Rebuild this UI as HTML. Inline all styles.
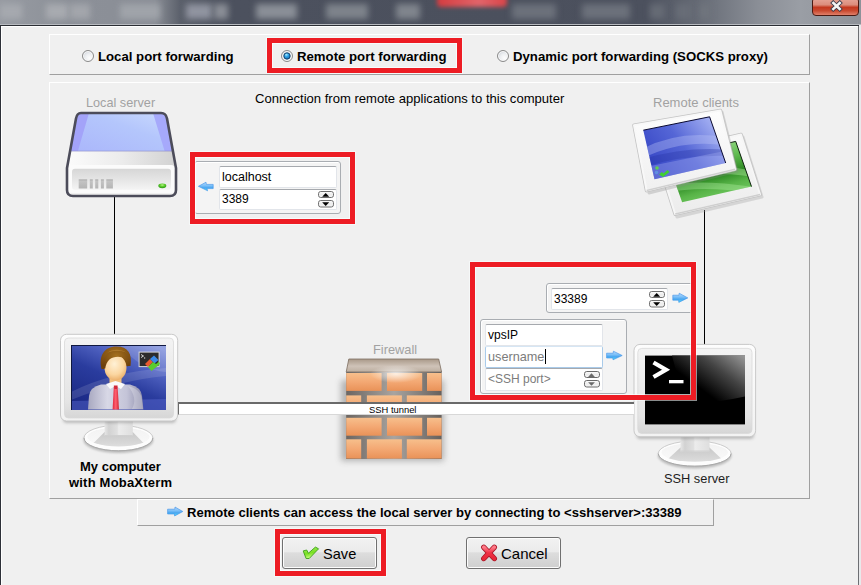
<!DOCTYPE html>
<html><head><meta charset="utf-8">
<style>
*{margin:0;padding:0;box-sizing:border-box}
html,body{width:861px;height:585px;overflow:hidden;background:#f0f0f0;font-family:"Liberation Sans",sans-serif;position:relative}
.a{position:absolute}
.t{position:absolute;white-space:pre;line-height:1;font-family:"Liberation Sans",sans-serif}
.b{font-weight:bold}
.panel{position:absolute;border-top:1px solid #fff;border-left:1px solid #fff;border-right:1px solid #a0a0a0;border-bottom:1px solid #a0a0a0}
.red{position:absolute;border:5px solid #ed1c24;box-shadow:0 0 0 1px rgba(250,255,255,0.55),inset 0 0 0 1px rgba(250,255,255,0.7)}
.radio{position:absolute;width:12px;height:12px;border-radius:50%;border:1px solid #8a8a8a;background:radial-gradient(circle at 65% 70%,#fdfdfd 0,#eceef1 45%,#cdd2d9 85%);box-shadow:inset 0 0 0 1px #fafafa}
.grp{position:absolute;border:1px solid #a9adb2;border-radius:3px;box-shadow:inset 1px 1px 0 #fff;background:#f4f4f4}
.inp{position:absolute;background:#fff;border:1px solid #e2e5ea;border-top-color:#a6a9ae;border-radius:2px}
.spin{position:absolute;width:16px;height:7px;border:1px solid #707070;border-radius:2px;background:linear-gradient(#fafafa,#e0e0e0)}
.btn{position:absolute;border:1px solid #707070;border-radius:3px;background:linear-gradient(#f2f2f2 0,#ebebeb 45%,#dddddd 50%,#cfcfcf 100%);box-shadow:inset 0 0 0 1px #fcfcfc}
.gray{color:#a2a2a2}
</style></head><body>
<!-- title bar -->
<div class="a" style="left:0;top:0;width:861px;height:25px;overflow:hidden;background:linear-gradient(90deg,#979ba2 0,#8c9098 8%,#8a8e96 18%,#5a5f6a 21%,#4c515e 27%,#4b505d 60%,#4c515e 75%,#6a6f79 82%,#8a8e96 88%,#9a9ea5 93%,#8e9299 100%)">
<div class="a" style="left:0px;top:4px;width:22px;height:15px;background:#a6a9af;filter:blur(3px)"></div>
<div class="a" style="left:46px;top:4px;width:22px;height:15px;background:#a8abb0;filter:blur(3px)"></div>
<div class="a" style="left:70px;top:4px;width:20px;height:15px;background:#a3a6ac;filter:blur(3px)"></div>
<div class="a" style="left:120px;top:4px;width:40px;height:15px;background:#a0a4aa;filter:blur(3px)"></div>
<div class="a" style="left:186px;top:4px;width:26px;height:15px;background:#9094a0;filter:blur(3px)"></div>
<div class="a" style="left:214px;top:4px;width:14px;height:15px;background:#8a8e96;filter:blur(3px)"></div>
<div class="a" style="left:256px;top:4px;width:41px;height:15px;background:#8a8f97;filter:blur(3px)"></div>
<div class="a" style="left:326px;top:4px;width:42px;height:15px;background:#7e838b;filter:blur(3px)"></div>
<div class="a" style="left:396px;top:4px;width:24px;height:15px;background:#80858d;filter:blur(3px)"></div>
<div class="a" style="left:512px;top:4px;width:44px;height:15px;background:#6c717b;filter:blur(3px)"></div>
<div class="a" style="left:582px;top:4px;width:48px;height:15px;background:#6c717b;filter:blur(3px)"></div>
<div class="a" style="left:650px;top:4px;width:15px;height:15px;background:#666b75;filter:blur(3px)"></div>
<div class="a" style="left:676px;top:4px;width:16px;height:15px;background:#686d77;filter:blur(3px)"></div>
<div class="a" style="left:700px;top:4px;width:10px;height:15px;background:#70757e;filter:blur(3px)"></div>
<div class="a" style="left:437px;top:-6px;width:70px;height:13px;border-radius:4px;background:linear-gradient(90deg,#d43c40,#e2646a 60%,#d84448);filter:blur(2px)"></div>
</div>
<div class="a" style="left:0;top:24px;width:861px;height:1px;background:#b8bbc0"></div>
<div class="a" style="left:0;top:25px;width:859px;height:1px;background:#2a2d33"></div>
<!-- close button -->
<div class="a" style="left:812px;top:-3px;width:47px;height:19px;border:1px solid #4a1a12;border-radius:4px;background:linear-gradient(#e7a79a 0,#dc8d7c 40%,#c4381f 55%,#c94a30 75%,#e0806a 100%)"></div>
<!-- frame -->
<div class="a" style="left:0;top:26px;width:1px;height:559px;background:#2d3038"></div>
<div class="a" style="left:1px;top:26px;width:1px;height:559px;background:#fff"></div>
<div class="a" style="left:1px;top:26px;width:857px;height:1px;background:#fff"></div>
<div class="a" style="left:858px;top:26px;width:1px;height:559px;background:#6d6f73"></div>
<div class="a" style="left:859px;top:25px;width:2px;height:560px;background:#e8e9eb"></div>

<!-- panel 1 -->
<div class="panel" style="left:49px;top:34px;width:761px;height:41px"></div>
<div class="radio" style="left:82px;top:50px"></div>
<div class="t b" style="left:98px;top:50px;font-size:13.2px">Local port forwarding</div>
<div class="radio" style="left:281px;top:50px"></div>
<div class="t b" style="left:297px;top:50px;font-size:13.2px">Remote port forwarding</div>
<div class="radio" style="left:497px;top:50px"></div>
<div class="t b" style="left:513px;top:50px;font-size:13.2px">Dynamic port forwarding (SOCKS proxy)</div>

<!-- panel 2 -->
<div class="panel" style="left:49px;top:82px;width:761px;height:417px"></div>
<div class="t" style="left:255px;top:92px;font-size:13.07px">Connection from remote applications to this computer</div>
<div class="t gray" style="left:86px;top:97px;font-size:12.7px">Local server</div>
<div class="t gray" style="left:653px;top:96px;font-size:13px">Remote clients</div>
<div class="t gray" style="left:373px;top:344px;font-size:12.8px">Firewall</div>
<div class="t b" style="left:80px;top:460px;font-size:13px">My computer</div>
<div class="t b" style="left:69px;top:476px;font-size:13px;letter-spacing:0.2px">with MobaXterm</div>
<div class="t" style="left:664px;top:473px;font-size:12.8px;color:#1e1e1e">SSH server</div>

<!-- lines -->
<div class="a" style="left:114px;top:196px;width:1px;height:140px;background:#000"></div>
<div class="a" style="left:704px;top:210px;width:1px;height:135px;background:#000"></div>

<svg class="a" style="left:0;top:0" width="861" height="585" viewBox="0 0 861 585">
<defs>
 <linearGradient id="baseTop" x1="0" y1="0" x2="0" y2="1"><stop offset="0" stop-color="#f2f2f2"/><stop offset="1" stop-color="#fafafa"/></linearGradient>
 <linearGradient id="baseCone" x1="0" y1="0" x2="0" y2="1"><stop offset="0" stop-color="#c8c8c8"/><stop offset="0.6" stop-color="#d8d8d8"/><stop offset="1" stop-color="#e6e6e6"/></linearGradient>
 <radialGradient id="fwHi"><stop offset="0" stop-color="#fff" stop-opacity="0.75"/><stop offset="1" stop-color="#fff" stop-opacity="0"/></radialGradient>
 <linearGradient id="dBlue" x1="0" y1="1" x2="1" y2="0"><stop offset="0" stop-color="#aab6fb"/><stop offset="0.6" stop-color="#b4c6fc"/><stop offset="1" stop-color="#c9d9fd"/></linearGradient>
 <linearGradient id="dSilver" x1="0" y1="0" x2="1" y2="0"><stop offset="0" stop-color="#fbfbfb"/><stop offset="0.5" stop-color="#ececec"/><stop offset="1" stop-color="#d2d2d2"/></linearGradient>
 <linearGradient id="dPanel" x1="0" y1="0" x2="0" y2="1"><stop offset="0" stop-color="#d6d6d6"/><stop offset="1" stop-color="#f4f4f4"/></linearGradient>
 <linearGradient id="dSlot" x1="0" y1="0" x2="0" y2="1"><stop offset="0" stop-color="#9a9a9a"/><stop offset="0.15" stop-color="#c4c4c4"/><stop offset="1" stop-color="#b4b4b4"/></linearGradient>
 <radialGradient id="dLed" cx="0.5" cy="0.35" r="0.6"><stop offset="0" stop-color="#b8f58a"/><stop offset="0.5" stop-color="#5ccc2c"/><stop offset="1" stop-color="#2f9a18"/></radialGradient>
 <linearGradient id="mBez" x1="0" y1="0" x2="0" y2="1"><stop offset="0" stop-color="#fdfdfd"/><stop offset="1" stop-color="#f2f2f2"/></linearGradient>
 <linearGradient id="mIn" x1="0" y1="0" x2="0" y2="1"><stop offset="0" stop-color="#f3f3f3"/><stop offset="0.8" stop-color="#e4e4e4"/><stop offset="1" stop-color="#d6d6d6"/></linearGradient>
 <linearGradient id="mNeck" x1="0" y1="0" x2="1" y2="0"><stop offset="0" stop-color="#e6e6e6"/><stop offset="0.15" stop-color="#d2d2d2"/><stop offset="0.45" stop-color="#e0e0e0"/><stop offset="0.5" stop-color="#ececec"/><stop offset="1" stop-color="#dedede"/></linearGradient>
 <radialGradient id="mBase" cx="0.5" cy="0.3" r="0.7"><stop offset="0" stop-color="#fefefe"/><stop offset="0.6" stop-color="#f0f0f0"/><stop offset="1" stop-color="#d0d0d0"/></radialGradient>
 <linearGradient id="scrBlue" x1="0.2" y1="1" x2="0.85" y2="0"><stop offset="0" stop-color="#1a2884"/><stop offset="0.45" stop-color="#2a3c9e"/><stop offset="0.75" stop-color="#5466c4"/><stop offset="1" stop-color="#8494dc"/></linearGradient>
 <radialGradient id="face" cx="0.45" cy="0.35" r="0.7"><stop offset="0" stop-color="#fff1d6"/><stop offset="0.6" stop-color="#fbd6a0"/><stop offset="1" stop-color="#e8a860"/></radialGradient>
 <radialGradient id="hair" cx="0.5" cy="0.3" r="0.7"><stop offset="0" stop-color="#a5701e"/><stop offset="1" stop-color="#6d400c"/></radialGradient>
 <linearGradient id="shirt" x1="0" y1="0" x2="1" y2="0"><stop offset="0" stop-color="#a8a8c0"/><stop offset="0.35" stop-color="#d8d8e6"/><stop offset="0.7" stop-color="#c4c4d8"/><stop offset="1" stop-color="#8a8aa8"/></linearGradient>
 <linearGradient id="tie" x1="0" y1="0" x2="1" y2="0"><stop offset="0" stop-color="#e02840"/><stop offset="0.5" stop-color="#ff6070"/><stop offset="1" stop-color="#d02030"/></linearGradient>
 <linearGradient id="gloss" x1="1" y1="0" x2="0.3" y2="0.6"><stop offset="0" stop-color="#9a9a9a"/><stop offset="0.5" stop-color="#444"/><stop offset="1" stop-color="#000"/></linearGradient>
 <linearGradient id="brick" x1="0" y1="0" x2="0" y2="1"><stop offset="0" stop-color="#f7bf8c"/><stop offset="0.5" stop-color="#f3a873"/><stop offset="1" stop-color="#e99258"/></linearGradient>
 <linearGradient id="slab" x1="0" y1="0" x2="0" y2="1"><stop offset="0" stop-color="#a89888"/><stop offset="0.55" stop-color="#cfc3b8"/><stop offset="1" stop-color="#bcaea0"/></linearGradient>
 <linearGradient id="mortar" x1="0" y1="0" x2="1" y2="0"><stop offset="0" stop-color="#6c6662"/><stop offset="0.5" stop-color="#a8a4a0"/><stop offset="1" stop-color="#66605c"/></linearGradient>
 <linearGradient id="rcBlue" x1="0" y1="0.3" x2="1" y2="0"><stop offset="0" stop-color="#3444c4"/><stop offset="0.5" stop-color="#5a6ad8"/><stop offset="1" stop-color="#a4b0f4"/></linearGradient>
 <linearGradient id="rcFrame" x1="0" y1="0" x2="0" y2="1"><stop offset="0" stop-color="#fcfcfc"/><stop offset="0.85" stop-color="#f2f2f2"/><stop offset="1" stop-color="#d8d8d8"/></linearGradient>
 <linearGradient id="rcGreen" x1="0" y1="0" x2="0.3" y2="1"><stop offset="0" stop-color="#98dc88"/><stop offset="0.4" stop-color="#58b448"/><stop offset="0.7" stop-color="#3a9a30"/><stop offset="1" stop-color="#68c458"/></linearGradient>
</defs>

<!-- ===== Local server drive ===== -->
<g>
 <path d="M81,113 L161,113 Q166,113 167,118.5 L176,168 L176,190 Q176,196 170,196 L73,196 Q67,196 67,190 L67,168 L76,118.5 Q77,113 81,113 Z" fill="#f0f0f0"/>
 <path d="M81,114 L161,114 Q165.5,114 166.3,118.5 L172.3,151 L70.6,151 L76.6,118.5 Q77.5,114 81,114 Z" fill="url(#dBlue)"/>
 <path d="M81,114 L88.7,114 L77.9,151 L70.6,151 L76.6,118.5 Q77.5,114 81,114 Z" fill="#a3a3f9"/>
 <path d="M153.3,114 L161,114 Q165.5,114 166.3,118.5 L172.3,151 L164.6,151 Z" fill="#a6a9fb"/>
 <path d="M70.6,151 L172.3,151 L175,166 L68,166 Z" fill="url(#dSilver)"/>
 <rect x="70.6" y="150.6" width="101.7" height="1" fill="#8a8cc8" opacity="0.6"/>
 <rect x="68" y="165" width="107" height="28" rx="4" fill="#fbfbfb"/>
 <rect x="72" y="168.8" width="99" height="21" rx="3" fill="url(#dPanel)"/>
 <rect x="78.7" y="179.5" width="8.5" height="9" fill="url(#dSlot)"/>
 <rect x="89.8" y="179.5" width="3" height="9" fill="url(#dSlot)"/>
 <rect x="95.2" y="179.5" width="3.1" height="9" fill="url(#dSlot)"/>
 <rect x="100.9" y="179.5" width="3" height="9" fill="url(#dSlot)"/>
 <rect x="106.3" y="179.5" width="6.6" height="9" fill="url(#dSlot)"/>
 <ellipse cx="162.3" cy="185.8" rx="4" ry="2.4" fill="url(#dLed)"/>
 <path d="M81,113 L161,113 Q166,113 167,118.5 L176,168 L176,190 Q176,196 170,196 L73,196 Q67,196 67,190 L67,168 L76,118.5 Q77,113 81,113 Z" fill="none" stroke="#4c4c5a" stroke-width="2.6"/>
</g>

<!-- ===== Left monitor (My computer) ===== -->
<g>

 <ellipse cx="118.4" cy="440.2" rx="34.9" ry="12.8" fill="#7a7a7a" opacity="0.45" style="filter:blur(1.2px)"/>
 <ellipse cx="118.4" cy="438" rx="34.4" ry="12.8" fill="#fdfdfd" stroke="#c2c2c2" stroke-width="0.8"/>
 <path d="M84.0,438 A34.4,12.8 0 0 0 152.8,438" fill="none" stroke="#a9a9a9" stroke-width="1"/>
 <clipPath id="bc1"><ellipse cx="118.4" cy="436.8" rx="31.4" ry="9.600000000000001"/></clipPath>
 <g clip-path="url(#bc1)">
  <ellipse cx="118.4" cy="436.8" rx="31.4" ry="9.600000000000001" fill="url(#baseTop)"/>
  <path d="M104.6,432 L132.8,432 L151.08,450.8 L85.72,450.8 Z" fill="url(#baseCone)"/>
 </g>
 <rect x="104.6" y="419" width="28.200000000000017" height="17" fill="url(#mNeck)"/>
 <rect x="104.6" y="419" width="28.200000000000017" height="1.2" fill="#fafafa"/>
 <rect x="104.6" y="435" width="28.200000000000017" height="1" fill="#d0d0d0"/>
 <rect x="63" y="414" width="113" height="9" rx="4" fill="#6a6a6a" opacity="0.4" style="filter:blur(1.6px)"/>
 <rect x="60.5" y="334.3" width="117.2" height="86.7" rx="6" fill="url(#mBez)" stroke="#c9c9c9" stroke-width="1"/>
 <rect x="64.5" y="338" width="109" height="80" rx="4" fill="url(#mIn)" stroke="#d9d9d9" stroke-width="0.8"/>
 <rect x="71" y="345" width="95" height="65" fill="url(#scrBlue)"/>
 <path d="M71,392 Q110,372 166,368 L166,376 Q120,380 71,400 Z" fill="#fff" opacity="0.12"/>
 <path d="M71,401 L166,399 L166,410 L71,410 Z" fill="#5a6ad0" opacity="0.45"/>
 <path d="M120,345 Q140,370 166,372 L166,345 Z" fill="#fff" opacity="0.12"/>
 <rect x="71" y="345" width="95" height="1" fill="#101840"/>
 <rect x="71" y="345" width="1" height="65" fill="#101840"/>
 <!-- person -->
 <path d="M88,409.5 L89,396 Q90,387 101,384.5 L130,384.5 Q141,387 142,396 L143.4,409.5 Z" fill="url(#shirt)"/>
 <path d="M128,386 Q141,389 142,400 L143,409 L132,409 Q138,398 128,386 Z" fill="#fff" opacity="0.25"/>
 <rect x="109.5" y="375" width="12" height="10" fill="#f0c080"/>
 <path d="M106,384 L115.5,381 L125,384 L121,389 L115.5,386 L110,389 Z" fill="#fafafa"/>
 <path d="M113.8,386.5 L117.6,386.5 L119,409.5 L112.6,409.5 Z" fill="url(#tie)"/>
 <path d="M113.8,385.5 L117.6,385.5 L117,389 L114.4,389 Z" fill="#d02838"/>
 <path d="M101.5,369 C98.5,356 104,346.5 116.5,346.5 C128,346.5 132.5,354 130.5,366 L126,366 L104.5,369 Z" fill="url(#hair)"/>
 <ellipse cx="115.5" cy="367.8" rx="11" ry="12.8" fill="url(#face)"/>
 <path d="M103.5,368.5 C102,358 107,350.5 116.5,350 C125,349.5 129.5,355 129.5,365.5 L127.2,366.5 C126.5,360 123.5,356.8 118,356.8 C111,356.8 106.5,360.5 105.2,368.5 Z" fill="url(#hair)"/>
 <path d="M108,352.5 C112,349 121,348.5 126,352.5 C121,350.5 113,350.8 108,352.5 Z" fill="#c08a3a" opacity="0.6"/>
 <!-- moba icon -->
 <rect x="138.6" y="351.6" width="21" height="15.5" fill="#d8d8dc"/>
 <rect x="139.6" y="352.6" width="19" height="13.5" fill="#2c2c2c"/>
 <path d="M141,354.5 L143.5,356 L141,357.5" stroke="#e8e8e8" stroke-width="0.9" fill="none"/>
 <rect x="144" y="357.5" width="1.2" height="1" fill="#e8e8e8"/>
 <path d="M145,364 L150,359 L153,362 L148,367 Z" fill="#e85a30"/>
 <path d="M150,359 L154,355.5 L158.5,360 L154.5,363.5 Z" fill="#3a8ae8"/>
 <path d="M148,367 L153,362 L156,364 L159,361.5 L160,364 L151.5,371 Z" fill="#5acc30"/>
</g>

<!-- ===== SSH server monitor ===== -->
<g>

 <ellipse cx="694.7" cy="455.8" rx="36.9" ry="12.6" fill="#7a7a7a" opacity="0.45" style="filter:blur(1.2px)"/>
 <ellipse cx="694.7" cy="453.6" rx="36.4" ry="12.6" fill="#fdfdfd" stroke="#c2c2c2" stroke-width="0.8"/>
 <path d="M658.3000000000001,453.6 A36.4,12.6 0 0 0 731.1,453.6" fill="none" stroke="#a9a9a9" stroke-width="1"/>
 <clipPath id="bc2"><ellipse cx="694.7" cy="452.40000000000003" rx="33.4" ry="9.399999999999999"/></clipPath>
 <g clip-path="url(#bc2)">
  <ellipse cx="694.7" cy="452.40000000000003" rx="33.4" ry="9.399999999999999" fill="url(#baseTop)"/>
  <path d="M680.5,447.5 L709.5,447.5 L729.2800000000001,466.20000000000005 L660.12,466.20000000000005 Z" fill="url(#baseCone)"/>
 </g>
 <rect x="680.5" y="434" width="29.0" height="17.5" fill="url(#mNeck)"/>
 <rect x="680.5" y="434" width="29.0" height="1.2" fill="#fafafa"/>
 <rect x="680.5" y="450.5" width="29.0" height="1" fill="#d0d0d0"/>
 <rect x="636.5" y="430" width="117.5" height="9" rx="4" fill="#6a6a6a" opacity="0.4" style="filter:blur(1.6px)"/>
 <rect x="634" y="344.4" width="121.6" height="92.3" rx="6" fill="url(#mBez)" stroke="#c9c9c9" stroke-width="1"/>
 <rect x="637.8" y="348.4" width="114.2" height="85" rx="4" fill="url(#mIn)" stroke="#d9d9d9" stroke-width="0.8"/>
 <rect x="645" y="355.6" width="100" height="68.8" fill="#000"/>
 <path d="M672,355.6 L745,355.6 L745,396.5 Q712,404 684,402 Z" fill="url(#gloss)"/>
 <path d="M653.5,362.5 L666,369.8 L653.5,377" stroke="#fff" stroke-width="4.2" fill="none" stroke-linejoin="miter"/>
 <rect x="669" y="380" width="14.5" height="3.3" fill="#fff"/>
</g>

<!-- ===== Firewall ===== -->
<g>
 <rect x="341" y="380" width="103" height="81" fill="#404040" opacity="0.35" style="filter:blur(3px)"/>
 <path d="M348.8,359 L438.7,359 L441.6,372 L346.2,372 Z" fill="url(#slab)" stroke="#7c6d60" stroke-width="0.8"/>
 <rect x="346.2" y="372" width="95.4" height="87" fill="url(#mortar)"/>
 
 <g fill="url(#brick)">
  <rect x="346.2" y="373" width="35.4" height="17.9"/>
  <rect x="387" y="373" width="35.2" height="17.9"/>
  <rect x="427" y="373" width="14.6" height="17.9"/>
  <rect x="346.2" y="395.4" width="15" height="19"/>
  <rect x="366.9" y="395.4" width="35" height="19"/>
  <rect x="406.8" y="395.4" width="34.8" height="19"/>
  <rect x="346.2" y="417.8" width="35.4" height="17.9"/>
  <rect x="387" y="417.8" width="35.2" height="17.9"/>
  <rect x="427" y="417.8" width="14.6" height="17.9"/>
  <rect x="346.2" y="439.3" width="15" height="19.3"/>
  <rect x="366.9" y="439.3" width="35" height="19.3"/>
  <rect x="406.8" y="439.3" width="34.8" height="19.3"/>
 </g>
 <ellipse cx="396" cy="374" rx="26" ry="9" fill="url(#fwHi)"/>
</g>

<!-- ===== Remote clients ===== -->
<defs>
 <clipPath id="cpG"><polygon points="666.3,157.1 735.7,141.4 751.5,186.6 682.1,202.3"/></clipPath>
 <clipPath id="cpB"><polygon points="643.3,130.2 709.6,116.8 725.7,163 654.5,179.3"/></clipPath>
 <linearGradient id="rcG2" gradientUnits="userSpaceOnUse" x1="700" y1="145" x2="715" y2="200"><stop offset="0" stop-color="#98dc88"/><stop offset="0.35" stop-color="#5cb84c"/><stop offset="0.6" stop-color="#2e8a24"/><stop offset="0.8" stop-color="#58b448"/><stop offset="1" stop-color="#70c860"/></linearGradient>
 <linearGradient id="rcB2" gradientUnits="userSpaceOnUse" x1="650" y1="170" x2="715" y2="120"><stop offset="0" stop-color="#3444c4"/><stop offset="0.5" stop-color="#5566d6"/><stop offset="1" stop-color="#a8b4f4"/></linearGradient>
 <linearGradient id="rcF2" gradientUnits="userSpaceOnUse" x1="0" y1="110" x2="0" y2="215"><stop offset="0" stop-color="#fdfdfd"/><stop offset="1" stop-color="#ececec"/></linearGradient>
</defs>
<g>
 <polygon points="658,157 743,137 762,197 677,217" fill="#9a9a9a" opacity="0.3" stroke="#9a9a9a" stroke-width="3" stroke-linejoin="round"/>
 <polygon points="656.1,154.1 741,134.5 760.1,194.5 675.2,214.1" fill="url(#rcF2)" stroke="#c4c4c4" stroke-width="3.6" stroke-linejoin="round"/>
 <polygon points="656.1,154.1 741,134.5 760.1,194.5 675.2,214.1" fill="url(#rcF2)" stroke="#f6f6f6" stroke-width="2" stroke-linejoin="round"/>
 <path d="M760.1,194.5 L675.2,214.1" stroke="#cfcfcf" stroke-width="1.5" fill="none"/>
 <g clip-path="url(#cpG)">
  <rect x="660" y="135" width="100" height="75" fill="url(#rcG2)"/>
  <path d="M660,170 Q700,160 760,172 L760,178 Q700,168 660,180 Z" fill="#b8f0a8" opacity="0.4"/>
  <path d="M660,186 Q700,178 760,188 L760,194 Q700,184 660,194 Z" fill="#b8f0a8" opacity="0.35"/>
 </g>
 <path d="M666.3,157.1 L735.7,141.4 L751.5,186.6" fill="none" stroke="#0c200c" stroke-width="1"/>
 <polygon points="636,127 722,112 737,171 649,193" fill="#8a8a8a" opacity="0.3" stroke="#8a8a8a" stroke-width="3" stroke-linejoin="round"/>
 <polygon points="634,125.2 720.4,110.6 735,169.2 646.6,190.6" fill="url(#rcF2)" stroke="#c4c4c4" stroke-width="3.6" stroke-linejoin="round"/>
 <polygon points="634,125.2 720.4,110.6 735,169.2 646.6,190.6" fill="url(#rcF2)" stroke="#f8f8f8" stroke-width="2" stroke-linejoin="round"/>
 <path d="M735,169.2 L646.6,190.6" stroke="#d0d0d0" stroke-width="1.5" fill="none"/>
 <g clip-path="url(#cpB)">
  <rect x="640" y="112" width="90" height="70" fill="url(#rcB2)"/>
  <path d="M640,150 Q680,128 730,138 L730,146 Q680,138 640,160 Z" fill="#c0c8f8" opacity="0.35"/>
  <path d="M640,160 Q685,146 730,150 L730,156 Q685,154 640,168 Z" fill="#2030a0" opacity="0.3"/>
  <path d="M640,168 L730,150 L730,185 L640,185 Z" fill="#9aa6ee" opacity="0.4"/>
 </g>
 <path d="M643.3,130.2 L709.6,116.8 L725.7,163" fill="none" stroke="#0a0a30" stroke-width="1"/>
 <circle cx="657" cy="168" r="1.8" fill="#60d050"/>
 <circle cx="656.5" cy="172.5" r="1.8" fill="#6090e0"/>
 <path d="M659,174.5 L662,172 L663.5,173.5 L667.5,170 L669.5,172 L663,177 Z" fill="#40d030"/>
</g>

</svg>

<!-- local group -->
<div class="grp" style="left:194px;top:161px;width:147px;height:53px"></div>
<div class="inp" style="left:219px;top:166px;width:118px;height:22px"></div>
<div class="inp" style="left:219px;top:189px;width:118px;height:21px"></div>
<div class="t" style="left:222px;top:171px;font-size:12.5px">localhost</div>
<div class="t" style="left:222px;top:193px;font-size:12px">3389</div>

<!-- remote group A -->
<div class="grp" style="left:546px;top:283px;width:150px;height:30px"></div>
<div class="inp" style="left:551px;top:288px;width:117px;height:22px"></div>
<div class="t" style="left:554px;top:293px;font-size:12px">33389</div>

<!-- remote group B -->
<div class="grp" style="left:480px;top:319px;width:147px;height:75px"></div>
<div class="inp" style="left:485px;top:324px;width:118px;height:22px"></div>
<div class="inp" style="left:485px;top:346px;width:118px;height:22px;border-color:#a9cbea;border-top-color:#d6e6f4"></div>
<div class="inp" style="left:485px;top:368px;width:118px;height:23px"></div>
<div class="t" style="left:488px;top:329px;font-size:12px">vpsIP</div>
<div class="t gray" style="left:488px;top:351px;font-size:12.7px;color:#7c7c7c">username</div>
<div class="a" style="left:545px;top:349px;width:1px;height:15px;background:#000"></div>
<div class="t gray" style="left:488px;top:373px;font-size:12px;color:#7c7c7c">&lt;SSH port&gt;</div>

<!-- tunnel bar -->
<div class="a" style="left:178px;top:402px;width:456px;height:13px;background:#fff;border-top:2px solid #6a6a6a;border-left:1px solid #6a6a6a;border-bottom:1px solid #d8d8d8"></div>
<div class="t" style="left:369px;top:405px;font-size:9.4px">SSH tunnel</div>

<!-- info bar -->
<div class="panel" style="left:137px;top:499px;width:577px;height:27px"></div>
<div class="t b" style="left:187px;top:506px;font-size:13.05px">Remote clients can access the local server by connecting to &lt;sshserver&gt;:33389</div>

<!-- buttons -->
<div class="btn" style="left:282px;top:537px;width:95px;height:32px"></div>
<div class="t" style="left:323px;top:547px;font-size:14.6px">Save</div>
<div class="btn" style="left:466px;top:537px;width:95px;height:32px"></div>
<div class="t" style="left:501px;top:546px;font-size:15px">Cancel</div>

<svg class="a" style="left:0;top:0" width="861" height="585" viewBox="0 0 861 585">
<defs>
 <linearGradient id="arr" x1="0" y1="0" x2="0" y2="1"><stop offset="0" stop-color="#b4d8fc"/><stop offset="0.4" stop-color="#7cc0f8"/><stop offset="0.65" stop-color="#4aa6f0"/><stop offset="1" stop-color="#52e4ff"/></linearGradient>
 <linearGradient id="spG" x1="0" y1="0" x2="0" y2="1"><stop offset="0" stop-color="#fdfdfd"/><stop offset="0.5" stop-color="#ececec"/><stop offset="1" stop-color="#f6f6f6"/></linearGradient>
 <radialGradient id="rdot" cx="0.4" cy="0.3" r="0.7"><stop offset="0" stop-color="#a8ecff"/><stop offset="0.45" stop-color="#2ea4ea"/><stop offset="1" stop-color="#1a6cb0"/></radialGradient>
 <linearGradient id="chk" x1="0" y1="0" x2="0.3" y2="1"><stop offset="0" stop-color="#a8f070"/><stop offset="0.6" stop-color="#78e020"/><stop offset="1" stop-color="#c8ff80"/></linearGradient>
 <linearGradient id="xg" x1="0" y1="0" x2="0" y2="1"><stop offset="0" stop-color="#ff7a88"/><stop offset="0.5" stop-color="#f03044"/><stop offset="1" stop-color="#e82838"/></linearGradient>
</defs>
<!-- ===== Blue arrows ===== -->
<g fill="url(#arr)" stroke="#3a8ee8" stroke-width="0.6" stroke-linejoin="round">
 <path d="M198.4,186.3 L206,182.2 L206.4,184.4 L213.2,184.4 L213.2,188.6 L207,188.6 L207.6,190.8 Z"/>
 <path d="M687.8,297.9 L679.2,293.2 L679,295.2 L672.8,295.2 L672.8,300.2 L678.6,300.2 L678.8,302.4 Z"/>
 <path d="M622.2,355.5 L613.4,351.2 L613.2,353.2 L606.6,353.2 L606.6,358 L612.8,358 L613,359.8 Z"/>
 <path d="M182.8,511.5 L175,507 L174.8,509.2 L167.6,509.2 L167.6,514 L174.4,514 L174.6,516 Z"/>
</g>
<!-- selected radio dot -->
<circle cx="287" cy="56" r="3.2" fill="url(#rdot)" stroke="#0d3a62" stroke-width="0.9"/>
<!-- spinners -->
<g stroke="#707070" stroke-width="1" fill="url(#spG)">
 <rect x="318.5" y="191.5" width="15" height="6" rx="2.2"/>
 <rect x="318.5" y="200.5" width="15" height="6.5" rx="2.2"/>
 <rect x="649.5" y="291.5" width="15" height="6" rx="2.2"/>
 <rect x="649.5" y="300.5" width="15" height="6.5" rx="2.2"/>
 <rect x="584.5" y="371.5" width="15" height="6" rx="2.2" stroke="#6a6a6a"/>
 <rect x="584.5" y="380.5" width="15" height="6.5" rx="2.2" stroke="#6a6a6a"/>
</g>
<g fill="#000">
 <path d="M322.2,196.8 L325.7,193 L329.2,196.8 Z"/>
 <path d="M322.2,202.2 L329.2,202.2 L325.7,205.9 Z"/>
 <path d="M653.2,296.8 L656.7,293 L660.2,296.8 Z"/>
 <path d="M653.2,302.2 L660.2,302.2 L656.7,305.9 Z"/>
</g>
<g fill="#6a6a6a">
 <path d="M588.1,377 L591.5,373.2 L594.9,377 Z"/>
 <path d="M588.1,382.2 L594.9,382.2 L591.5,385.8 Z"/>
</g>
<!-- save check -->
<path d="M303.2,550.9 L306.7,550 L308.4,553.2 L315.4,547.1 L318.6,548.8 L309.2,558.5 L306.1,558.5 Z" fill="url(#chk)" stroke="#3ca018" stroke-width="0.9" stroke-linejoin="round"/>
<!-- cancel X -->
<g stroke-linecap="round">
 <path d="M483.8,547.3 L494.3,558.5 M494.3,547.3 L483.8,558.5" stroke="#a81828" stroke-width="5.4"/>
 <path d="M483.8,547.3 L494.3,558.5 M494.3,547.3 L483.8,558.5" stroke="url(#xg)" stroke-width="3.8"/>
</g>
<!-- close X -->
<g stroke-linecap="square">
 <path d="M833.3,3 L839.7,9 M839.7,3 L833.3,9" stroke="#3a3a4a" stroke-width="4.4"/>
 <path d="M833.3,3 L839.7,9 M839.7,3 L833.3,9" stroke="#f4f4f4" stroke-width="2.6"/>
</g>
</svg>

<!-- red boxes -->
<div class="red" style="left:267px;top:38px;width:195px;height:35px"></div>
<div class="red" style="left:190px;top:152px;width:165px;height:72px"></div>
<div class="red" style="left:470px;top:262px;width:226px;height:138px"></div>
<div class="red" style="left:275px;top:529px;width:111px;height:47px"></div>
</body></html>
